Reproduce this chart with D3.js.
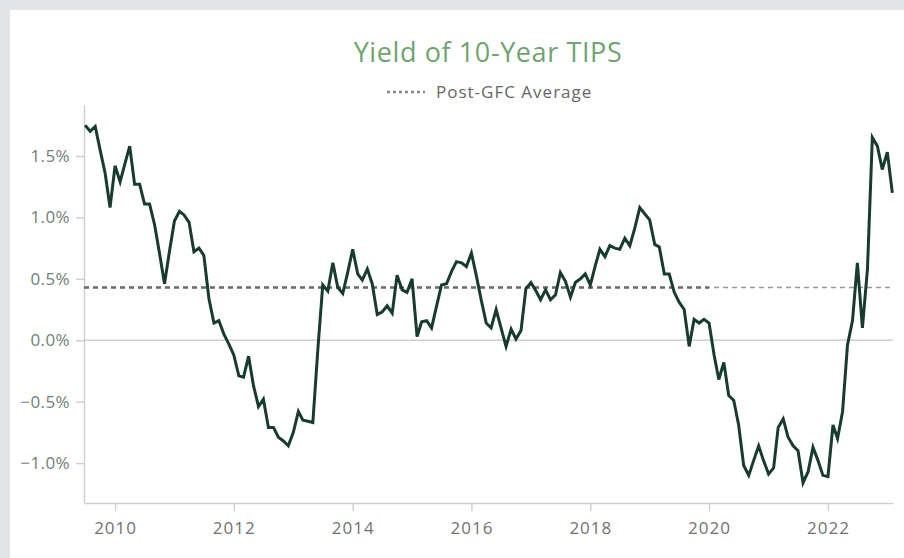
<!DOCTYPE html>
<html>
<head>
<meta charset="utf-8">
<script src="https://cdn.jsdelivr.net/npm/d3@7"></script>
<style>
  body { margin: 0; background: #e3e4e6; }
  svg { display: block; }
  text { font-family: "Open Sans", "Lato", sans-serif; }
</style>
</head>
<body>
<script>
var w = 904;
var h = 558;

// monthly yield of 10-year TIPS (%), Jul 2009 .. Feb 2023
var startMonth = new Date(2009, 6, 1);
var yields = [
  1.75, 1.70, 1.74, 1.55, 1.36, 1.08,
  1.42, 1.29, 1.43, 1.58, 1.27, 1.27, 1.11, 1.11, 0.94, 0.71, 0.46, 0.72,
  0.97, 1.05, 1.02, 0.96, 0.72, 0.75, 0.69, 0.34, 0.14, 0.16, 0.05, -0.03,
  -0.12, -0.29, -0.30, -0.13, -0.37, -0.54, -0.48, -0.71, -0.71, -0.79, -0.82, -0.86,
  -0.75, -0.58, -0.65, -0.66, -0.67, -0.07, 0.45, 0.40, 0.63, 0.43, 0.38, 0.55,
  0.74, 0.54, 0.49, 0.58, 0.46, 0.21, 0.23, 0.28, 0.22, 0.53, 0.41, 0.39,
  0.50, 0.03, 0.15, 0.16, 0.10, 0.28, 0.45, 0.46, 0.56, 0.64, 0.63, 0.60,
  0.71, 0.52, 0.33, 0.14, 0.10, 0.25, 0.10, -0.05, 0.09, 0.01, 0.08, 0.42,
  0.47, 0.40, 0.33, 0.41, 0.33, 0.37, 0.55, 0.48, 0.35, 0.47, 0.50, 0.54,
  0.45, 0.61, 0.74, 0.68, 0.77, 0.75, 0.74, 0.83, 0.77, 0.91, 1.08, 1.03,
  0.98, 0.78, 0.76, 0.54, 0.54, 0.39, 0.31, 0.25, -0.05, 0.17, 0.14, 0.17,
  0.14, -0.12, -0.32, -0.18, -0.45, -0.49, -0.69, -1.02, -1.10, -0.98, -0.86, -0.98,
  -1.09, -1.04, -0.71, -0.64, -0.79, -0.86, -0.90, -1.16, -1.07, -0.87, -0.98, -1.10,
  -1.11, -0.69, -0.80, -0.58, -0.04, 0.16, 0.63, 0.10, 0.58, 1.65, 1.58, 1.39,
  1.53, 1.20
];
var postGfcAverage = 0.43;
var averageEmphasisEnd = new Date(2020, 0, 1);
var yTicks = [-1.0, -0.5, 0.0, 0.5, 1.0, 1.5];
var xTickYears = [2010, 2012, 2014, 2016, 2018, 2020, 2022];
var titleText = 'Yield of 10-Year TIPS';
var legendText = 'Post-GFC Average';

var data = yields.map(function(v, i){
  return { date: d3.timeMonth.offset(startMonth, i), value: v };
});

var svg = d3.select('body').append('svg')
    .attr('width', w)
    .attr('height', h);

// white card
svg.append('rect')
    .attr('x', 10).attr('y', 10)
    .attr('width', w - 10).attr('height', h - 10)
    .attr('fill', '#fff');

var x = d3.scaleTime()
    .domain([new Date(2009, 5, 24), new Date(2023, 1, 5)])
    .range([84, 893]);
var y = d3.scaleLinear()
    .domain([-1.325, 1.915])
    .range([503, 105]);

// title + legend
svg.append('text')
    .attr('x', 488).attr('y', 62)
    .attr('text-anchor', 'middle')
    .attr('font-size', 27)
    .attr('letter-spacing', 0.6)
    .attr('fill', '#6ea46f')
    .text(titleText);

svg.append('line')
    .attr('x1', 387).attr('x2', 425)
    .attr('y1', 92).attr('y2', 92)
    .attr('stroke', '#888')
    .attr('stroke-width', 2.5)
    .attr('stroke-dasharray', '3,3');
svg.append('text')
    .attr('x', 436).attr('y', 98)
    .attr('font-size', 17)
    .attr('letter-spacing', 1)
    .attr('fill', '#666')
    .text(legendText);

// axes
var yAxis = d3.axisLeft(y)
    .tickValues(yTicks)
    .tickSize(8)
    .tickSizeOuter(0)
    .tickPadding(6)
    .tickFormat(function(d){ return d3.format('.1f')(d) + '%'; });
var gy = svg.append('g')
    .attr('transform', 'translate(84,0)')
    .call(yAxis);
gy.selectAll('text')
    .attr('font-size', 17)
    .attr('letter-spacing', 0.4)
    .attr('fill', '#6f7f79');

var xAxis = d3.axisBottom(x)
    .tickValues(xTickYears.map(function(yr){ return new Date(yr, 0, 1); }))
    .tickSize(8)
    .tickSizeOuter(0)
    .tickPadding(11)
    .tickFormat(d3.timeFormat('%Y'));
var gx = svg.append('g')
    .attr('transform', 'translate(0,503)')
    .call(xAxis);
gx.selectAll('text')
    .attr('font-size', 17)
    .attr('letter-spacing', 1)
    .attr('fill', '#727272');

svg.selectAll('.domain, .tick line').attr('stroke', '#d0d0d0').attr('stroke-width', 1.5);

// zero line
svg.append('line')
    .attr('x1', x.range()[0]).attr('x2', x.range()[1])
    .attr('y1', y(0)).attr('y2', y(0))
    .attr('stroke', '#d0d0d0')
    .attr('stroke-width', 1.5);

// average lines
svg.append('line')
    .attr('x1', x.range()[0]).attr('x2', x.range()[1])
    .attr('y1', y(postGfcAverage)).attr('y2', y(postGfcAverage))
    .attr('stroke', '#999')
    .attr('stroke-width', 1.5)
    .attr('stroke-dasharray', '5,4');
svg.append('line')
    .attr('x1', x.range()[0]).attr('x2', x(averageEmphasisEnd))
    .attr('y1', y(postGfcAverage)).attr('y2', y(postGfcAverage))
    .attr('stroke', '#6b6b6b')
    .attr('stroke-width', 2.5)
    .attr('stroke-dasharray', '5,4');

// yield line
var line = d3.line()
    .x(function(d){ return x(d.date); })
    .y(function(d){ return y(d.value); });
svg.append('path')
    .datum(data)
    .attr('d', line)
    .attr('fill', 'none')
    .attr('stroke', '#183b30')
    .attr('stroke-width', 3)
    .attr('stroke-linejoin', 'miter');
</script>
</body>
</html>
